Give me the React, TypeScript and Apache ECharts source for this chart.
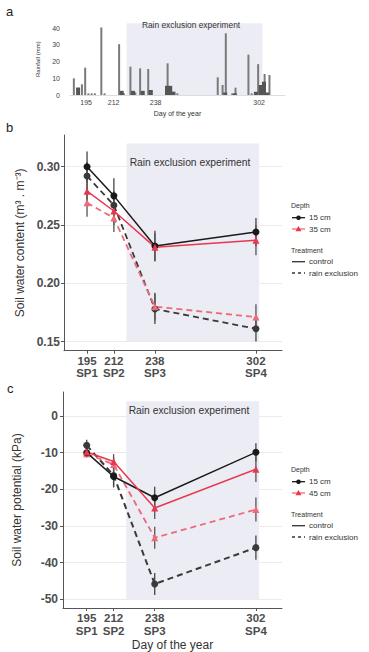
import React, { useEffect, useRef } from "react";
import * as echarts from "echarts";

// ---- Panel a: rainfall ----
const rainDays = [188, 193, 195, 197, 199, 201, 205, 207, 216, 219, 223, 226, 229, 234, 246, 250, 252, 277, 280, 282, 286, 288, 296, 298, 302, 306, 309];
const rainMm = [10, 6.4, 16.4, 1, 1, 1, 40.5, 1, 30.5, 1, 17, 1.5, 16, 15.6, 19, 1.5, 1, 10.6, 6, 37, 1, 4.4, 24.2, 1, 18.5, 12.6, 12];
const rainDaysDark = [190, 217, 224, 230, 235, 245, 247, 249, 281, 287, 300, 303, 305, 307];
const rainMmDark = [4.5, 2.5, 2.5, 2.5, 3, 5.5, 5.5, 2, 1.5, 1, 2, 6, 8, 1.5];
const rainTicks = [0, 10, 20, 30, 40];
const rainDayTicks = [195, 212, 238, 302];

// ---- Sampling campaigns ----
const sampleDays = [195, 212, 238, 302];
const sampleLabels = ["SP1", "SP2", "SP3", "SP4"];
const exclusionStart = 220;
const exclusionEnd = 304;

// ---- Panel b: soil water content (m3/m3) ----
const swc15Control = [0.3, 0.275, 0.232, 0.244];
const swc15Excl = [0.292, 0.267, 0.178, 0.161];
const swc35Control = [0.279, 0.262, 0.231, 0.237];
const swc35Excl = [0.269, 0.256, 0.18, 0.171];
const swc15ControlErr = [0.013, 0.015, 0.013, 0.012];
const swc15ExclErr = [0.012, 0.012, 0.013, 0.011];
const swc35ControlErr = [0.012, 0.012, 0.012, 0.013];
const swc35ExclErr = [0.012, 0.012, 0.012, 0.011];
const swcTicks = [0.15, 0.2, 0.25, 0.3];

// ---- Panel c: soil water potential (kPa) ----
const swp15Control = [-10, -16.5, -22.3, -9.9];
const swp15Excl = [-8, -16.2, -45.8, -35.9];
const swp45Control = [-9.8, -12.4, -25.1, -14.5];
const swp45Excl = [-10.3, -13.2, -33.2, -25.5];
const swp15ControlErr = [1.2, 3, 3, 2.5];
const swp15ExclErr = [1.5, 3, 3, 3.3];
const swp45ControlErr = [1, 2, 3, 3.5];
const swp45ExclErr = [1, 2, 3, 3.3];
const swpTicks = [0, -10, -20, -30, -40, -50];

const FONT = "Liberation Sans, Arial, sans-serif";
const BLACK = "#1a1a1a";
const BLACK_D = "#3a3a3a";
const RED = "#e8384f";
const RED_D = "#ec6a7a";
const SHADE = "#ececf5";
const AXIS = "#555";

const pts = (v: number[]) => sampleDays.map((d, i) => [d, v[i]]);
const errRows = (v: number[], e: number[]) => sampleDays.map((d, i) => [d, v[i] - e[i], v[i] + e[i]]);

function errSeries(ai: number, rows: number[][], color: string) {
  return {
    type: "custom",
    xAxisIndex: ai,
    yAxisIndex: ai,
    data: rows,
    encode: { x: 0, y: [1, 2] },
    z: 1,
    silent: true,
    renderItem: (_p: any, api: any) => {
      const x = api.value(0);
      const a = api.coord([x, api.value(1)]);
      const b = api.coord([x, api.value(2)]);
      return {
        type: "line",
        shape: { x1: a[0], y1: a[1], x2: b[0], y2: b[1] },
        style: { stroke: color, lineWidth: 1.3 },
      };
    },
  };
}

function lineSeries(ai: number, v: number[], color: string, dashed: boolean, symbol: string, extra: any = {}) {
  return {
    type: "line",
    xAxisIndex: ai,
    yAxisIndex: ai,
    data: pts(v),
    symbol,
    symbolSize: 7,
    z: dashed ? 3 : 4,
    lineStyle: { color, width: dashed ? 1.8 : 1.5, type: dashed ? [6, 4] : "solid" },
    itemStyle: { color },
    silent: true,
    ...extra,
  };
}

function shadeArea(yLo: number, yHi: number) {
  return {
    silent: true,
    itemStyle: { color: SHADE },
    data: [[{ xAxis: exclusionStart, yAxis: yLo }, { xAxis: exclusionEnd, yAxis: yHi }]],
  };
}

function legend(y0: number, depth2: string) {
  const x1 = 292, x2 = 305, xm = 298.5, tx = 309;
  const rows = [y0 + 12.7, y0 + 24, y0 + 45, y0 + 56.7, y0 + 68];
  const small = { fontSize: 7, fontFamily: FONT, fill: "#333333", textVerticalAlign: "middle" };
  const norm = { fontSize: 8, fontFamily: FONT, fill: "#333333", textVerticalAlign: "middle" };
  const tri = (cx: number, cy: number) => [[cx, cy - 3], [cx - 3, cy + 2.2], [cx + 3, cy + 2.2]];
  return [
    { type: "text", x: 291, y: y0, style: { text: "Depth", ...small } },
    { type: "line", shape: { x1, y1: rows[0], x2, y2: rows[0] }, style: { stroke: BLACK, lineWidth: 1.3 } },
    { type: "circle", shape: { cx: xm, cy: rows[0], r: 2.3 }, style: { fill: BLACK } },
    { type: "text", x: tx, y: rows[0], style: { text: "15 cm", ...norm } },
    { type: "line", shape: { x1, y1: rows[1], x2, y2: rows[1] }, style: { stroke: RED_D, lineWidth: 1.3 } },
    { type: "polygon", shape: { points: tri(xm, rows[1]) }, style: { fill: RED } },
    { type: "text", x: tx, y: rows[1], style: { text: depth2, ...norm } },
    { type: "text", x: 291, y: rows[2], style: { text: "Treatment", ...small } },
    { type: "line", shape: { x1, y1: rows[3], x2, y2: rows[3] }, style: { stroke: "#333", lineWidth: 1.3 } },
    { type: "text", x: tx, y: rows[3], style: { text: "control", ...norm } },
    { type: "line", shape: { x1, y1: rows[4], x2, y2: rows[4] }, style: { stroke: "#333", lineWidth: 1.3, lineDash: [3, 3] } },
    { type: "text", x: tx, y: rows[4], style: { text: "rain exclusion", ...norm } },
  ];
}

export default function App() {
  const ref = useRef<HTMLDivElement>(null);
  useEffect(() => {
    if (!ref.current) return;
    const chart = echarts.init(ref.current, null, { renderer: "svg" });
    const tickLab = { fontSize: 12, fontWeight: "bold", color: "#4d4d4d", fontFamily: FONT };
    const xLab = { fontSize: 11.5, fontWeight: "bold", color: "#4d4d4d", fontFamily: FONT };
    const option: any = {
      animation: false,
      backgroundColor: "#fff",
      textStyle: { fontFamily: FONT },
      grid: [
        { left: 70, top: 23.3, width: 215, height: 71.7, outerBoundsMode: "none" },
        { left: 64, top: 135, width: 218, height: 215.7, outerBoundsMode: "none" },
        { left: 63, top: 392, width: 219, height: 216, outerBoundsMode: "none" },
      ],
      xAxis: [
        {
          type: "value", gridIndex: 0, min: 185, max: 318,
          axisLine: { show: true, lineStyle: { color: "#ddd", width: 1 } },
          axisTick: { show: false, customValues: rainDayTicks },
          splitLine: { show: false },
          axisLabel: { customValues: rainDayTicks, fontSize: 7, color: "#444", margin: 4, fontFamily: FONT },
          name: "Day of the year", nameLocation: "middle", nameGap: 15,
          nameTextStyle: { fontSize: 7, color: "#333", fontFamily: FONT },
        },
        {
          type: "value", gridIndex: 1, min: 180.4, max: 318.5,
          axisLine: { show: true, onZero: false, lineStyle: { color: AXIS, width: 1 } },
          axisTick: { show: true, length: 3, customValues: sampleDays, lineStyle: { color: AXIS } },
          splitLine: { show: false },
          axisLabel: {
            customValues: sampleDays, margin: 4, lineHeight: 12.5, ...xLab,
            formatter: (v: number) => `${v}\n${sampleLabels[sampleDays.indexOf(v)] ?? ""}`,
          },
        },
        {
          type: "value", gridIndex: 2, min: 180, max: 318.5,
          axisLine: { show: true, onZero: false, lineStyle: { color: AXIS, width: 1 } },
          axisTick: { show: true, length: 3, customValues: sampleDays, lineStyle: { color: AXIS } },
          splitLine: { show: false },
          axisLabel: {
            customValues: sampleDays, margin: 4, lineHeight: 12.5, ...xLab,
            formatter: (v: number) => `${v}\n${sampleLabels[sampleDays.indexOf(v)] ?? ""}`,
          },
          name: "Day of the year", nameLocation: "middle", nameGap: 31,
          nameTextStyle: { fontSize: 12, color: "#333", fontFamily: FONT },
        },
      ],
      yAxis: [
        {
          type: "value", gridIndex: 0, min: 0, max: 43,
          axisLine: { show: false },
          axisTick: { show: false, customValues: rainTicks },
          splitLine: { show: false },
          axisLabel: { customValues: rainTicks, fontSize: 7, color: "#444", margin: 10, fontFamily: FONT },
          name: "Rainfall (mm)", nameLocation: "middle", nameGap: 22, nameRotate: 90,
          nameTextStyle: { fontSize: 6, color: "#333", fontFamily: FONT },
        },
        {
          type: "value", gridIndex: 1, min: 0.1422, max: 0.3272,
          axisLine: { show: true, lineStyle: { color: AXIS, width: 1 } },
          axisTick: { show: true, length: 3, customValues: swcTicks, lineStyle: { color: AXIS } },
          splitLine: { show: true, lineStyle: { color: "#ebebeb", width: 1 } },
          axisLabel: { customValues: swcTicks, margin: 4, formatter: (v: number) => v.toFixed(2), ...tickLab },
          name: "Soil water content (m\u00b3 . m\u207b\u00b3)", nameLocation: "middle", nameGap: 38, nameRotate: 90,
          nameTextStyle: { fontSize: 12, color: "#333", fontFamily: FONT },
        },
        {
          type: "value", gridIndex: 2, min: -52.36, max: 6.55,
          axisLine: { show: true, lineStyle: { color: AXIS, width: 1 } },
          axisTick: { show: true, length: 3, customValues: swpTicks, lineStyle: { color: AXIS } },
          splitLine: { show: true, lineStyle: { color: "#ebebeb", width: 1 } },
          axisLabel: { customValues: swpTicks, margin: 5, ...tickLab },
          name: "Soil water potential (kPa)", nameLocation: "middle", nameGap: 40, nameRotate: 90,
          nameTextStyle: { fontSize: 12, color: "#333", fontFamily: FONT },
        },
      ],
      series: [
        {
          type: "bar", xAxisIndex: 0, yAxisIndex: 0, barWidth: 2, barGap: "-100%",
          data: rainDays.map((d, i) => [d, rainMm[i]]),
          itemStyle: { color: "#7a7a7a" }, silent: true, z: 3,
          markArea: shadeArea(0, 43),
        },
        {
          type: "bar", xAxisIndex: 0, yAxisIndex: 0, barWidth: 4, barGap: "-100%",
          data: rainDaysDark.map((d, i) => [d, rainMmDark[i]]),
          itemStyle: { color: "#555" }, silent: true, z: 3,
        },
        errSeries(1, errRows(swc15Control, swc15ControlErr), "#444"),
        errSeries(1, errRows(swc15Excl, swc15ExclErr), "#444"),
        errSeries(1, errRows(swc35Control, swc35ControlErr), "#555"),
        errSeries(1, errRows(swc35Excl, swc35ExclErr), "#555"),
        lineSeries(1, swc15Control, BLACK, false, "circle", { markArea: shadeArea(0.15, 0.32) }),
        lineSeries(1, swc15Excl, BLACK_D, true, "circle"),
        lineSeries(1, swc35Control, RED, false, "triangle"),
        lineSeries(1, swc35Excl, RED_D, true, "triangle"),
        errSeries(2, errRows(swp15Control, swp15ControlErr), "#444"),
        errSeries(2, errRows(swp15Excl, swp15ExclErr), "#444"),
        errSeries(2, errRows(swp45Control, swp45ControlErr), "#555"),
        errSeries(2, errRows(swp45Excl, swp45ExclErr), "#555"),
        lineSeries(2, swp15Control, BLACK, false, "circle", { markArea: shadeArea(-50, 4) }),
        lineSeries(2, swp15Excl, BLACK_D, true, "circle", { lineStyle: { color: BLACK_D, width: 2, type: [6, 4] } }),
        lineSeries(2, swp45Control, RED, false, "triangle"),
        lineSeries(2, swp45Excl, RED_D, true, "triangle"),
      ],
      graphic: [
        { type: "text", x: 6, y: 11, style: { text: "a", fontSize: 13, fontFamily: FONT, fill: "#222", textVerticalAlign: "middle" } },
        { type: "text", x: 6, y: 127, style: { text: "b", fontSize: 13, fontFamily: FONT, fill: "#222", textVerticalAlign: "middle" } },
        { type: "text", x: 7, y: 388, style: { text: "c", fontSize: 13, fontFamily: FONT, fill: "#222", textVerticalAlign: "middle" } },
        { type: "text", x: 191, y: 25, z: 10, style: { text: "Rain exclusion experiment", fontSize: 8.4, fontFamily: FONT, fill: "#333", textAlign: "center", textVerticalAlign: "middle" } },
        { type: "text", x: 190, y: 162, z: 10, style: { text: "Rain exclusion experiment", fontSize: 10.3, fontFamily: FONT, fill: "#333", textAlign: "center", textVerticalAlign: "middle" } },
        { type: "text", x: 189, y: 410, z: 10, style: { text: "Rain exclusion experiment", fontSize: 10.3, fontFamily: FONT, fill: "#333", textAlign: "center", textVerticalAlign: "middle" } },
        ...legend(205, "35 cm"),
        ...legend(469, "45 cm"),
      ],
    };
    chart.setOption(option);
    return () => chart.dispose();
  }, []);
  return <div ref={ref} style={{ position: "fixed", left: 0, top: 0, width: 369, height: 652 }} />;
}
